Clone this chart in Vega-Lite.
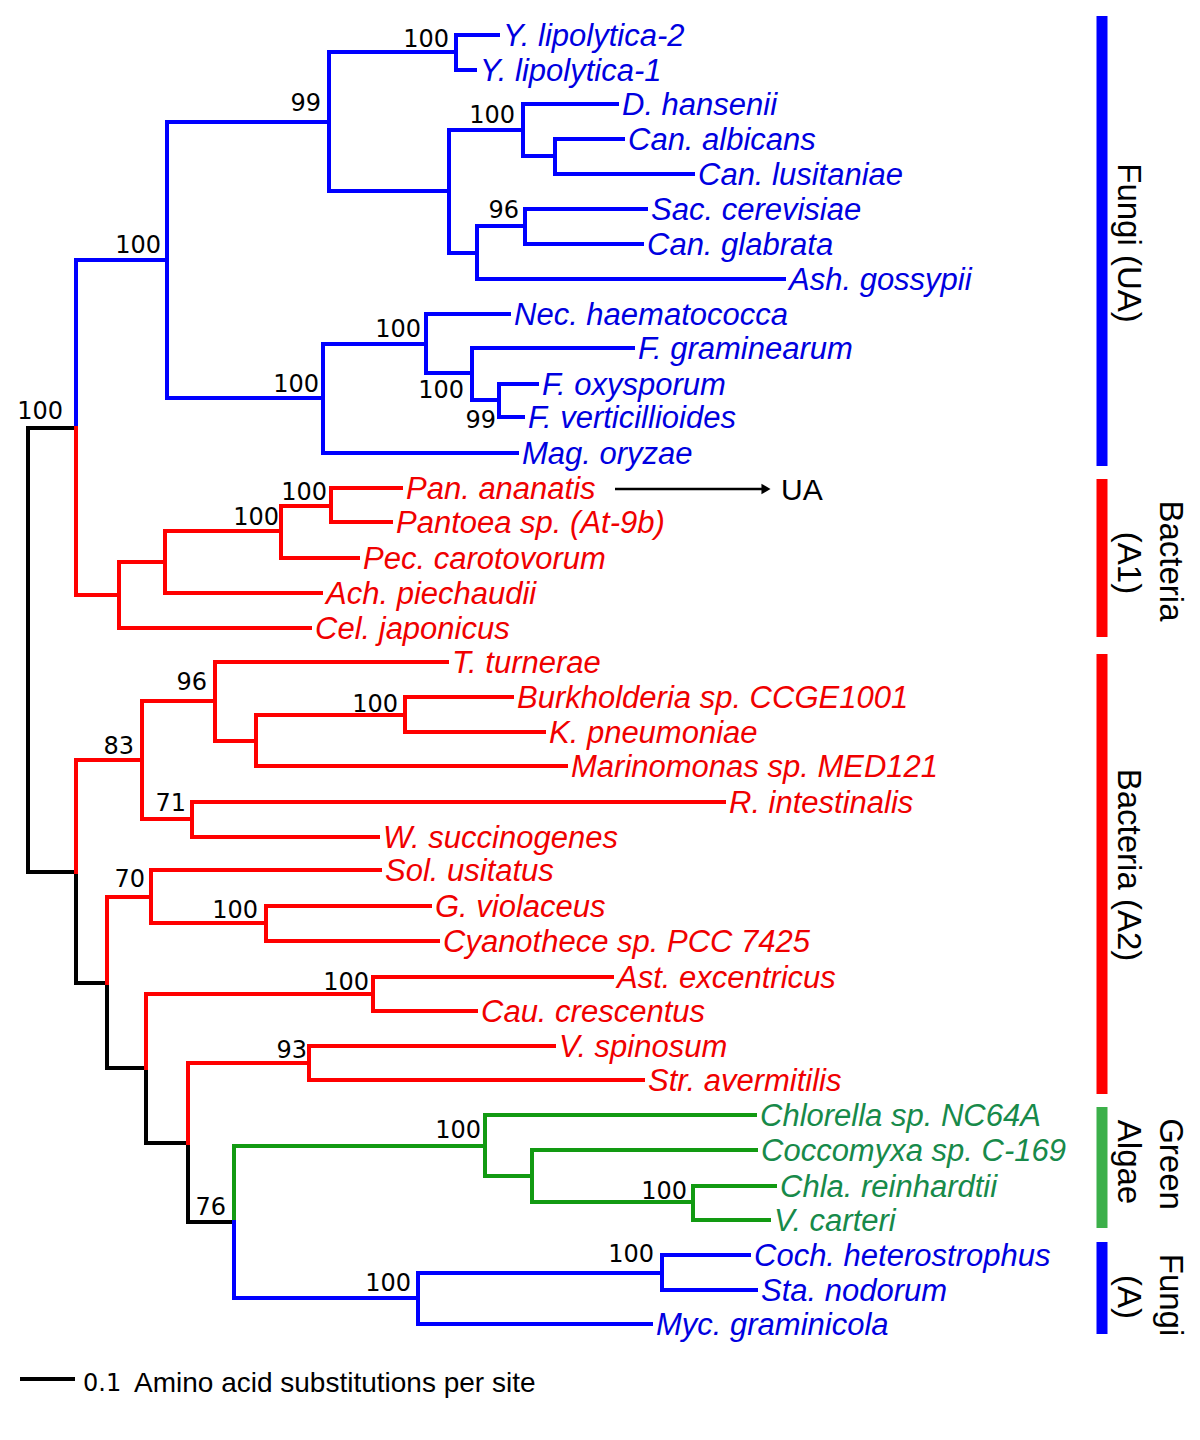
{
  "$schema": "https://vega.github.io/schema/vega-lite/v6.json",
  "width": 1200,
  "height": 1440,
  "autosize": "none",
  "padding": 0,
  "background": "white",
  "config": {"view": {"stroke": null}},
  "datasets": {
    "branches": [
      {"x":28,"x2":28,"y":428,"y2":872,"c":"k"},
      {"x":28,"x2":76,"y":428,"y2":428,"c":"k"},
      {"x":28,"x2":76,"y":872,"y2":872,"c":"k"},
      {"x":76,"x2":76,"y":872,"y2":983,"c":"k"},
      {"x":76,"x2":107,"y":983,"y2":983,"c":"k"},
      {"x":107,"x2":107,"y":983,"y2":1068,"c":"k"},
      {"x":107,"x2":146,"y":1068,"y2":1068,"c":"k"},
      {"x":146,"x2":146,"y":1068,"y2":1143,"c":"k"},
      {"x":146,"x2":188,"y":1143,"y2":1143,"c":"k"},
      {"x":188,"x2":188,"y":1143,"y2":1222,"c":"k"},
      {"x":188,"x2":234,"y":1222,"y2":1222,"c":"k"},

      {"x":76,"x2":76,"y":260,"y2":428,"c":"b"},
      {"x":76,"x2":167,"y":260,"y2":260,"c":"b"},
      {"x":167,"x2":167,"y":122,"y2":398,"c":"b"},
      {"x":167,"x2":329,"y":122,"y2":122,"c":"b"},
      {"x":329,"x2":329,"y":52,"y2":191,"c":"b"},
      {"x":329,"x2":456,"y":52,"y2":52,"c":"b"},
      {"x":456,"x2":456,"y":35,"y2":70,"c":"b"},
      {"x":456,"x2":498,"y":35,"y2":35,"c":"b"},
      {"x":456,"x2":475,"y":70,"y2":70,"c":"b"},
      {"x":329,"x2":449,"y":191,"y2":191,"c":"b"},
      {"x":449,"x2":449,"y":130,"y2":253,"c":"b"},
      {"x":449,"x2":523,"y":130,"y2":130,"c":"b"},
      {"x":523,"x2":523,"y":104,"y2":156,"c":"b"},
      {"x":523,"x2":617,"y":104,"y2":104,"c":"b"},
      {"x":523,"x2":555,"y":156,"y2":156,"c":"b"},
      {"x":555,"x2":555,"y":139,"y2":174,"c":"b"},
      {"x":555,"x2":623,"y":139,"y2":139,"c":"b"},
      {"x":555,"x2":693,"y":174,"y2":174,"c":"b"},
      {"x":449,"x2":477,"y":253,"y2":253,"c":"b"},
      {"x":477,"x2":477,"y":226,"y2":279,"c":"b"},
      {"x":477,"x2":525,"y":226,"y2":226,"c":"b"},
      {"x":525,"x2":525,"y":209,"y2":244,"c":"b"},
      {"x":525,"x2":646,"y":209,"y2":209,"c":"b"},
      {"x":525,"x2":642,"y":244,"y2":244,"c":"b"},
      {"x":477,"x2":784,"y":279,"y2":279,"c":"b"},
      {"x":167,"x2":323,"y":398,"y2":398,"c":"b"},
      {"x":323,"x2":323,"y":344,"y2":453,"c":"b"},
      {"x":323,"x2":426,"y":344,"y2":344,"c":"b"},
      {"x":426,"x2":426,"y":314,"y2":373,"c":"b"},
      {"x":426,"x2":509,"y":314,"y2":314,"c":"b"},
      {"x":426,"x2":472,"y":373,"y2":373,"c":"b"},
      {"x":472,"x2":472,"y":348,"y2":400,"c":"b"},
      {"x":472,"x2":633,"y":348,"y2":348,"c":"b"},
      {"x":472,"x2":499,"y":400,"y2":400,"c":"b"},
      {"x":499,"x2":499,"y":384,"y2":417,"c":"b"},
      {"x":499,"x2":537,"y":384,"y2":384,"c":"b"},
      {"x":499,"x2":523,"y":417,"y2":417,"c":"b"},
      {"x":323,"x2":517,"y":453,"y2":453,"c":"b"},

      {"x":76,"x2":76,"y":428,"y2":595,"c":"r"},
      {"x":76,"x2":119,"y":595,"y2":595,"c":"r"},
      {"x":119,"x2":119,"y":562,"y2":628,"c":"r"},
      {"x":119,"x2":165,"y":562,"y2":562,"c":"r"},
      {"x":165,"x2":165,"y":531,"y2":593,"c":"r"},
      {"x":165,"x2":281,"y":531,"y2":531,"c":"r"},
      {"x":281,"x2":281,"y":506,"y2":558,"c":"r"},
      {"x":281,"x2":331,"y":506,"y2":506,"c":"r"},
      {"x":331,"x2":331,"y":488,"y2":522,"c":"r"},
      {"x":331,"x2":401,"y":488,"y2":488,"c":"r"},
      {"x":331,"x2":391,"y":522,"y2":522,"c":"r"},
      {"x":281,"x2":358,"y":558,"y2":558,"c":"r"},
      {"x":165,"x2":321,"y":593,"y2":593,"c":"r"},
      {"x":119,"x2":310,"y":628,"y2":628,"c":"r"},

      {"x":76,"x2":76,"y":760,"y2":872,"c":"r"},
      {"x":76,"x2":142,"y":760,"y2":760,"c":"r"},
      {"x":142,"x2":142,"y":701,"y2":819,"c":"r"},
      {"x":142,"x2":215,"y":701,"y2":701,"c":"r"},
      {"x":215,"x2":215,"y":662,"y2":741,"c":"r"},
      {"x":215,"x2":447,"y":662,"y2":662,"c":"r"},
      {"x":215,"x2":256,"y":741,"y2":741,"c":"r"},
      {"x":256,"x2":256,"y":715,"y2":766,"c":"r"},
      {"x":256,"x2":405,"y":715,"y2":715,"c":"r"},
      {"x":405,"x2":405,"y":697,"y2":732,"c":"r"},
      {"x":405,"x2":512,"y":697,"y2":697,"c":"r"},
      {"x":405,"x2":544,"y":732,"y2":732,"c":"r"},
      {"x":256,"x2":566,"y":766,"y2":766,"c":"r"},
      {"x":142,"x2":192,"y":819,"y2":819,"c":"r"},
      {"x":192,"x2":192,"y":802,"y2":837,"c":"r"},
      {"x":192,"x2":724,"y":802,"y2":802,"c":"r"},
      {"x":192,"x2":378,"y":837,"y2":837,"c":"r"},
      {"x":107,"x2":107,"y":897,"y2":983,"c":"r"},
      {"x":107,"x2":151,"y":897,"y2":897,"c":"r"},
      {"x":151,"x2":151,"y":870,"y2":923,"c":"r"},
      {"x":151,"x2":380,"y":870,"y2":870,"c":"r"},
      {"x":151,"x2":266,"y":923,"y2":923,"c":"r"},
      {"x":266,"x2":266,"y":906,"y2":941,"c":"r"},
      {"x":266,"x2":430,"y":906,"y2":906,"c":"r"},
      {"x":266,"x2":438,"y":941,"y2":941,"c":"r"},
      {"x":146,"x2":146,"y":994,"y2":1068,"c":"r"},
      {"x":146,"x2":373,"y":994,"y2":994,"c":"r"},
      {"x":373,"x2":373,"y":977,"y2":1011,"c":"r"},
      {"x":373,"x2":612,"y":977,"y2":977,"c":"r"},
      {"x":373,"x2":476,"y":1011,"y2":1011,"c":"r"},
      {"x":188,"x2":188,"y":1063,"y2":1143,"c":"r"},
      {"x":188,"x2":309,"y":1063,"y2":1063,"c":"r"},
      {"x":309,"x2":309,"y":1046,"y2":1080,"c":"r"},
      {"x":309,"x2":554,"y":1046,"y2":1046,"c":"r"},
      {"x":309,"x2":643,"y":1080,"y2":1080,"c":"r"},

      {"x":234,"x2":234,"y":1146,"y2":1222,"c":"g"},
      {"x":234,"x2":485,"y":1146,"y2":1146,"c":"g"},
      {"x":485,"x2":485,"y":1115,"y2":1176,"c":"g"},
      {"x":485,"x2":755,"y":1115,"y2":1115,"c":"g"},
      {"x":485,"x2":532,"y":1176,"y2":1176,"c":"g"},
      {"x":532,"x2":532,"y":1150,"y2":1202,"c":"g"},
      {"x":532,"x2":756,"y":1150,"y2":1150,"c":"g"},
      {"x":532,"x2":693,"y":1202,"y2":1202,"c":"g"},
      {"x":693,"x2":693,"y":1186,"y2":1220,"c":"g"},
      {"x":693,"x2":775,"y":1186,"y2":1186,"c":"g"},
      {"x":693,"x2":769,"y":1220,"y2":1220,"c":"g"},

      {"x":234,"x2":234,"y":1222,"y2":1298,"c":"b"},
      {"x":234,"x2":418,"y":1298,"y2":1298,"c":"b"},
      {"x":418,"x2":418,"y":1273,"y2":1324,"c":"b"},
      {"x":418,"x2":662,"y":1273,"y2":1273,"c":"b"},
      {"x":662,"x2":662,"y":1255,"y2":1290,"c":"b"},
      {"x":662,"x2":749,"y":1255,"y2":1255,"c":"b"},
      {"x":662,"x2":756,"y":1290,"y2":1290,"c":"b"},
      {"x":418,"x2":651,"y":1324,"y2":1324,"c":"b"}
    ],
    "leaves": [
      {"name":"Y. lipolytica-2","x":498,"y":35,"c":"b"},
      {"name":"Y. lipolytica-1","x":475,"y":70,"c":"b"},
      {"name":"D. hansenii","x":617,"y":104,"c":"b"},
      {"name":"Can. albicans","x":623,"y":139,"c":"b"},
      {"name":"Can. lusitaniae","x":693,"y":174,"c":"b"},
      {"name":"Sac. cerevisiae","x":646,"y":209,"c":"b"},
      {"name":"Can. glabrata","x":642,"y":244,"c":"b"},
      {"name":"Ash. gossypii","x":784,"y":279,"c":"b"},
      {"name":"Nec. haematococca","x":509,"y":314,"c":"b"},
      {"name":"F. graminearum","x":633,"y":348,"c":"b"},
      {"name":"F. oxysporum","x":537,"y":384,"c":"b"},
      {"name":"F. verticillioides","x":523,"y":417,"c":"b"},
      {"name":"Mag. oryzae","x":517,"y":453,"c":"b"},
      {"name":"Pan. ananatis","x":401,"y":488,"c":"r"},
      {"name":"Pantoea sp. (At-9b)","x":391,"y":522,"c":"r"},
      {"name":"Pec. carotovorum","x":358,"y":558,"c":"r"},
      {"name":"Ach. piechaudii","x":321,"y":593,"c":"r"},
      {"name":"Cel. japonicus","x":310,"y":628,"c":"r"},
      {"name":"T. turnerae","x":447,"y":662,"c":"r"},
      {"name":"Burkholderia sp. CCGE1001","x":512,"y":697,"c":"r"},
      {"name":"K. pneumoniae","x":544,"y":732,"c":"r"},
      {"name":"Marinomonas sp. MED121","x":566,"y":766,"c":"r"},
      {"name":"R. intestinalis","x":724,"y":802,"c":"r"},
      {"name":"W. succinogenes","x":378,"y":837,"c":"r"},
      {"name":"Sol. usitatus","x":380,"y":870,"c":"r"},
      {"name":"G. violaceus","x":430,"y":906,"c":"r"},
      {"name":"Cyanothece sp. PCC 7425","x":438,"y":941,"c":"r"},
      {"name":"Ast. excentricus","x":612,"y":977,"c":"r"},
      {"name":"Cau. crescentus","x":476,"y":1011,"c":"r"},
      {"name":"V. spinosum","x":554,"y":1046,"c":"r"},
      {"name":"Str. avermitilis","x":643,"y":1080,"c":"r"},
      {"name":"Chlorella sp. NC64A","x":755,"y":1115,"c":"g"},
      {"name":"Coccomyxa sp. C-169","x":756,"y":1150,"c":"g"},
      {"name":"Chla. reinhardtii","x":775,"y":1186,"c":"g"},
      {"name":"V. carteri","x":769,"y":1220,"c":"g"},
      {"name":"Coch. heterostrophus","x":749,"y":1255,"c":"b"},
      {"name":"Sta. nodorum","x":756,"y":1290,"c":"b"},
      {"name":"Myc. graminicola","x":651,"y":1324,"c":"b"}
    ],
    "support": [
      {"v":"100","x":449,"y":38},
      {"v":"99","x":321,"y":102},
      {"v":"100","x":161,"y":244},
      {"v":"100","x":515,"y":114},
      {"v":"96","x":519,"y":209},
      {"v":"100","x":421,"y":328},
      {"v":"100","x":319,"y":383},
      {"v":"100","x":464,"y":389},
      {"v":"99","x":496,"y":419},
      {"v":"100","x":63,"y":410},
      {"v":"100","x":327,"y":491},
      {"v":"100","x":279,"y":516},
      {"v":"96","x":207,"y":681},
      {"v":"100","x":398,"y":703},
      {"v":"83","x":134,"y":745},
      {"v":"71","x":186,"y":802},
      {"v":"70","x":145,"y":878},
      {"v":"100","x":258,"y":909},
      {"v":"100","x":369,"y":981},
      {"v":"93","x":307,"y":1049},
      {"v":"100","x":481,"y":1129},
      {"v":"100","x":687,"y":1190},
      {"v":"76","x":226,"y":1206},
      {"v":"100","x":654,"y":1253},
      {"v":"100","x":411,"y":1282}
    ],
    "clades": [
      {"x":1102,"y":16,"y2":466,"c":"b"},
      {"x":1102,"y":479,"y2":637,"c":"r"},
      {"x":1102,"y":654,"y2":1094,"c":"r"},
      {"x":1102,"y":1107,"y2":1228,"c":"gb"},
      {"x":1102,"y":1242,"y2":1334,"c":"b"}
    ],
    "cladeText": [
      {"t":"Fungi (UA)","x":1128,"y":243},
      {"t":"Bacteria","x":1170,"y":561},
      {"t":"(A1)","x":1128,"y":563},
      {"t":"Bacteria (A2)","x":1128,"y":865},
      {"t":"Green","x":1170,"y":1164},
      {"t":"Algae","x":1128,"y":1162},
      {"t":"Fungi","x":1170,"y":1295},
      {"t":"(A)","x":1128,"y":1297}
    ]
  },
  "layer": [
    {
      "data": {"name": "branches"},
      "mark": {"type": "rule", "strokeWidth": 4, "strokeCap": "square"},
      "encoding": {
        "x": {"field": "x", "type": "quantitative", "scale": {"domain": [0, 1200], "nice": false, "zero": false}, "axis": null},
        "x2": {"field": "x2"},
        "y": {"field": "y", "type": "quantitative", "scale": {"domain": [0, 1440], "nice": false, "zero": false, "reverse": true}, "axis": null},
        "y2": {"field": "y2"},
        "stroke": {"field": "c", "type": "nominal", "legend": null,
          "scale": {"domain": ["k", "b", "r", "g", "gb"], "range": ["#000000", "#0000ff", "#ff0000", "#129a12", "#3cb04a"]}}
      }
    },
    {
      "data": {"name": "clades"},
      "mark": {"type": "rule", "strokeWidth": 11, "strokeCap": "butt"},
      "encoding": {
        "x": {"field": "x", "type": "quantitative"},
        "y": {"field": "y", "type": "quantitative"},
        "y2": {"field": "y2"},
        "stroke": {"field": "c", "type": "nominal", "legend": null}
      }
    },
    {
      "data": {"values": [{"x": 20, "x2": 75, "y": 1379}]},
      "mark": {"type": "rule", "strokeWidth": 4, "color": "black"},
      "encoding": {
        "x": {"field": "x", "type": "quantitative"},
        "x2": {"field": "x2"},
        "y": {"field": "y", "type": "quantitative"}
      }
    },
    {
      "data": {"values": [{"x": 615, "x2": 762, "y": 489}]},
      "mark": {"type": "rule", "strokeWidth": 2.5, "color": "black"},
      "encoding": {
        "x": {"field": "x", "type": "quantitative"},
        "x2": {"field": "x2"},
        "y": {"field": "y", "type": "quantitative"}
      }
    },
    {
      "data": {"values": [{"x": 766, "y": 489}]},
      "mark": {"type": "point", "shape": "triangle-right", "filled": true, "size": 110, "color": "black", "opacity": 1},
      "encoding": {
        "x": {"field": "x", "type": "quantitative"},
        "y": {"field": "y", "type": "quantitative"}
      }
    },
    {
      "data": {"name": "leaves"},
      "mark": {"type": "text", "align": "left", "baseline": "middle", "dx": 5, "dy": 2, "font": "Liberation Sans", "fontStyle": "italic", "fontSize": 31},
      "encoding": {
        "x": {"field": "x", "type": "quantitative"},
        "y": {"field": "y", "type": "quantitative"},
        "text": {"field": "name"},
        "fill": {"field": "c", "type": "nominal", "legend": null,
          "scale": {"domain": ["b", "r", "g"], "range": ["#0000e0", "#f00000", "#178a4a"]}}
      }
    },
    {
      "data": {"name": "support"},
      "mark": {"type": "text", "align": "right", "baseline": "middle", "dy": 2, "font": "DejaVu Sans", "fontSize": 24, "color": "black"},
      "encoding": {
        "x": {"field": "x", "type": "quantitative"},
        "y": {"field": "y", "type": "quantitative"},
        "text": {"field": "v"}
      }
    },
    {
      "data": {"name": "cladeText"},
      "mark": {"type": "text", "align": "center", "baseline": "middle", "angle": 90, "font": "Liberation Sans", "fontSize": 33, "color": "black"},
      "encoding": {
        "x": {"field": "x", "type": "quantitative"},
        "y": {"field": "y", "type": "quantitative"},
        "text": {"field": "t"}
      }
    },
    {
      "data": {"values": [{"t": "UA", "x": 781, "y": 489}]},
      "mark": {"type": "text", "align": "left", "baseline": "middle", "dy": 2, "font": "Liberation Sans", "fontSize": 30, "color": "black"},
      "encoding": {
        "x": {"field": "x", "type": "quantitative"},
        "y": {"field": "y", "type": "quantitative"},
        "text": {"field": "t"}
      }
    },
    {
      "data": {"values": [{"t": "0.1", "x": 83, "y": 1382}]},
      "mark": {"type": "text", "align": "left", "baseline": "middle", "dy": 2, "font": "DejaVu Sans", "fontSize": 24, "color": "black"},
      "encoding": {
        "x": {"field": "x", "type": "quantitative"},
        "y": {"field": "y", "type": "quantitative"},
        "text": {"field": "t"}
      }
    },
    {
      "data": {"values": [{"t": "Amino acid substitutions per site", "x": 134, "y": 1382}]},
      "mark": {"type": "text", "align": "left", "baseline": "middle", "dy": 2, "font": "Liberation Sans", "fontSize": 28, "color": "black"},
      "encoding": {
        "x": {"field": "x", "type": "quantitative"},
        "y": {"field": "y", "type": "quantitative"},
        "text": {"field": "t"}
      }
    }
  ]
}
